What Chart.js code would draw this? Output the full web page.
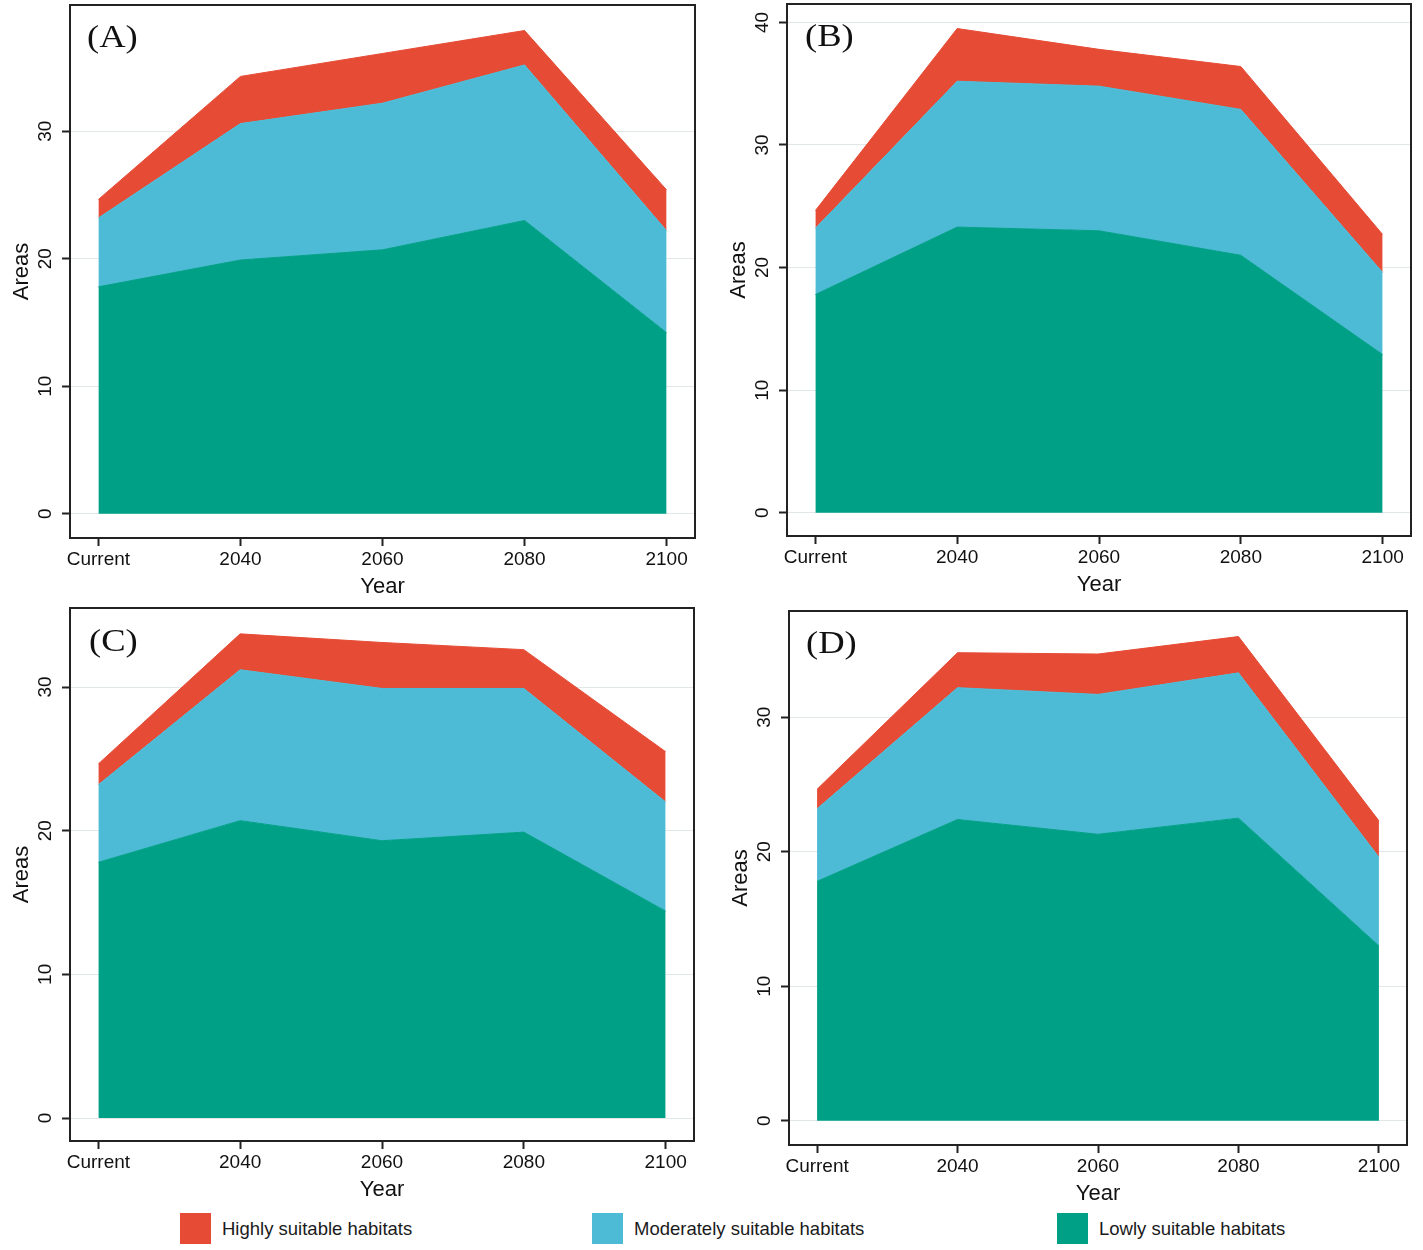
<!DOCTYPE html>
<html><head><meta charset="utf-8">
<script src="https://cdn.jsdelivr.net/npm/chart.js@4.4.1/dist/chart.umd.min.js"></script>
<style>
html,body{margin:0;padding:0;background:#fff;}
body{width:1423px;height:1250px;position:relative;overflow:hidden;font-family:"Liberation Sans",Arial,sans-serif;}
canvas{position:absolute;}
.plabel{position:absolute;font-family:"Liberation Serif","Times New Roman",serif;font-size:31px;line-height:31px;color:#111;transform:scaleX(1.18);transform-origin:left top;white-space:nowrap;}
.leg{position:absolute;top:1213px;height:31px;display:flex;align-items:center;font-size:18.5px;color:#1a1a1a;white-space:nowrap;}
.leg .box{width:31px;height:31px;margin-right:11px;display:inline-block;}
</style></head><body>
<canvas id="cA" width="711" height="605" style="left:0px;top:0px"></canvas>
<canvas id="cB" width="712" height="605" style="left:711px;top:0px"></canvas>
<canvas id="cC" width="711" height="605" style="left:0px;top:605px"></canvas>
<canvas id="cD" width="712" height="605" style="left:711px;top:605px"></canvas>
<div class="plabel" style="left:87px;top:21px">(A)</div>
<div class="plabel" style="left:805px;top:20px">(B)</div>
<div class="plabel" style="left:89px;top:625px">(C)</div>
<div class="plabel" style="left:806px;top:627px">(D)</div>
<div class="leg" style="left:180px"><span class="box" style="background:#E64B35"></span>Highly suitable habitats</div>
<div class="leg" style="left:592px"><span class="box" style="background:#4DBBD5"></span>Moderately suitable habitats</div>
<div class="leg" style="left:1057px"><span class="box" style="background:#00A087"></span>Lowly suitable habitats</div>
<script>
// ---- data ----
const categories = ['Current', '2040', '2060', '2080', '2100'];
const seriesNames = ['Highly suitable habitats', 'Moderately suitable habitats', 'Lowly suitable habitats'];

const lowA  = [17.8, 19.9, 20.7, 23.0, 14.2];
const modA  = [5.4, 10.7, 11.5, 12.2, 8.0];
const highA = [1.45, 3.7, 3.9, 2.7, 3.2];

const lowB  = [17.8, 23.3, 23.0, 21.0, 12.9];
const modB  = [5.4, 11.9, 11.8, 11.9, 6.7];
const highB = [1.45, 4.3, 3.0, 3.5, 3.1];

const lowC  = [17.8, 20.7, 19.3, 19.9, 14.4];
const modC  = [5.4, 10.5, 10.6, 10.0, 7.6];
const highC = [1.45, 2.5, 3.2, 2.7, 3.5];

const lowD  = [17.8, 22.4, 21.3, 22.5, 13.0];
const modD  = [5.4, 9.8, 10.4, 10.8, 6.6];
const highD = [1.45, 2.6, 3.0, 2.7, 2.7];

const yTicksA = [0, 10, 20, 30];
const yTicksB = [0, 10, 20, 30, 40];
const yTicksC = [0, 10, 20, 30];
const yTicksD = [0, 10, 20, 30];

// ---- style ----
const RED = '#E64B35', BLUE = '#4DBBD5', GREEN = '#00A087';
Chart.defaults.font.family = '"Liberation Sans", Arial, sans-serif';
Chart.defaults.color = '#111';

const framePlugin = {
  id: 'frame',
  afterDraw(chart) {
    const {ctx, chartArea: a} = chart;
    ctx.save();
    ctx.strokeStyle = '#222';
    ctx.lineWidth = 2;
    ctx.strokeRect(a.left, a.top, a.right - a.left, a.bottom - a.top);
    ctx.restore();
  }
};

function makeChart(id, low, mod, high, yTicks, yMin, yMax, pad) {
  const pts = arr => arr.map((v, i) => ({x: i, y: v}));
  const ds = (label, arr, color, fill) => ({
    label, data: pts(arr), backgroundColor: color, borderColor: color,
    borderWidth: 1, fill, pointRadius: 0, tension: 0
  });
  return new Chart(document.getElementById(id), {
    type: 'line',
    data: {datasets: [
      ds(seriesNames[2], low, GREEN, 'origin'),
      ds(seriesNames[1], mod, BLUE, '-1'),
      ds(seriesNames[0], high, RED, '-1')
    ]},
    options: {
      responsive: false,
      animation: false,
      layout: {padding: pad},
      plugins: {legend: {display: false}, tooltip: {enabled: false}},
      scales: {
        x: {
          type: 'linear', min: -0.2, max: 4.2,
          afterBuildTicks: s => { s.ticks = categories.map((c, i) => ({value: i})); },
          ticks: {callback: v => categories[v], font: {size: 19}, color: '#111', padding: 2, maxRotation: 0, minRotation: 0, autoSkip: false},
          grid: {drawOnChartArea: false, drawTicks: true, tickLength: 8, tickColor: '#222', tickWidth: 2},
          border: {display: false},
          title: {display: true, text: 'Year', font: {size: 22}, color: '#111', padding: 0},
          afterFit: s => { s.height = 62; s.paddingLeft = 0; s.paddingRight = 0; }
        },
        y: {
          type: 'linear', stacked: true, min: yMin, max: yMax,
          afterBuildTicks: s => { s.ticks = yTicks.map(v => ({value: v})); },
          ticks: {minRotation: 90, maxRotation: 90, crossAlign: 'center', padding: 6, font: {size: 19}, color: '#111'},
          grid: {color: '#e2e8ea', lineWidth: 1, drawTicks: true, tickLength: 8, tickColor: '#222', tickWidth: 2},
          border: {display: false},
          title: {display: true, text: 'Areas', font: {size: 22}, color: '#111', padding: {top: 9, bottom: 0}},
          afterFit: s => { s.width = 70; s.paddingTop = 0; s.paddingBottom = 0; }
        }
      }
    },
    plugins: [framePlugin]
  });
}

makeChart('cA', lowA, modA, highA, yTicksA, -1.9, 39.9, {left: 0, top: 5, right: 16, bottom: 5});
makeChart('cB', lowB, modB, highB, yTicksB, -1.9, 41.5, {left: 6, top: 4, right: 12, bottom: 7});
makeChart('cC', lowC, modC, highC, yTicksC, -1.6, 35.5, {left: 0, top: 3, right: 17, bottom: 7});
makeChart('cD', lowD, modD, highD, yTicksD, -1.8, 37.9, {left: 8, top: 6, right: 16, bottom: 3});
</script>
</body></html>
